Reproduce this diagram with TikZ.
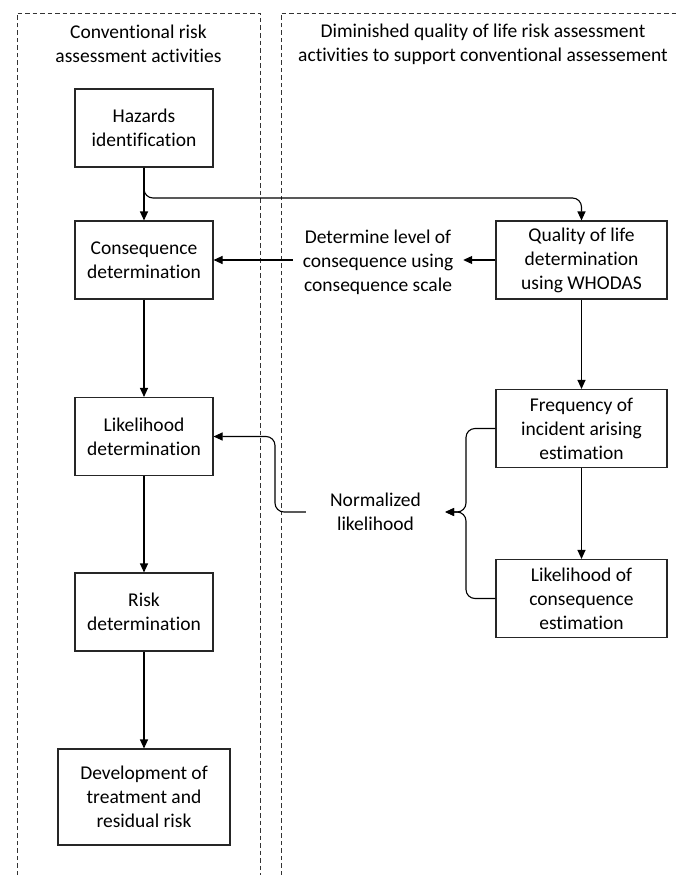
\documentclass[tikz,border=0pt]{standalone}
\usepackage{fontspec}
\setmainfont{Carlito}[Ligatures={NoCommon,NoContextual,NoRare}]
\usetikzlibrary{arrows.meta}
\begin{document}
\begin{tikzpicture}[x=1pt,y=-1pt,
  font=\fontsize{19.5}{24}\selectfont,
  box/.style={draw=black!85, line width=1.1pt, align=center, inner sep=0pt, fill=white},
  lbox/.style={box, minimum width=138pt, minimum height=78pt},
  rbox/.style={box, minimum width=171pt, minimum height=78pt},
  lbl/.style={align=center, inner sep=0pt},
  arr/.style={line width=1.1pt, -{Triangle[length=9pt,width=8pt]}},
  frame/.style={draw=black!80, line width=0.8pt, dash pattern=on 4.5pt off 3pt}
]
\useasboundingbox (0,0) rectangle (677,875);
% frames
\draw[frame] (17,875) -- (17,13) -- (260,13) -- (260,875);
\draw[frame] (281,875) -- (281,13) -- (677,13);
% titles
\node[lbl] (t1) at (138.5,44) {Conventional risk\\assessment activities};
\node[lbl] (t2) at (483,44) {Diminished quality of life risk assessment\\activities to support conventional assessement};
% left column
\node[lbox] (haz) at (144,128) {Hazards\\identification};
\node[lbox] (cons) at (144,260) {Consequence\\determination};
\node[lbox] (lik) at (144,436.5) {Likelihood\\determination};
\node[lbox] (risk) at (144,612) {Risk\\determination};
\node[box, minimum width=172pt, minimum height=96pt] (dev) at (144,797) {Development of\\treatment and\\residual risk};
% right column
\node[rbox] (qol) at (581.5,260) {Quality of life\\determination\\using WHODAS};
\node[rbox] (freq) at (581.5,428.5) {Frequency of\\incident arising\\estimation};
\node[rbox] (loc) at (581.5,598.5) {Likelihood of\\consequence\\estimation};
% labels
\node[lbl, minimum width=170pt] (det) at (378,262) {Determine level of\\consequence using\\consequence scale};
\node[lbl, minimum width=139pt] (norm) at (375.5,512) {Normalized\\likelihood};
% helper coordinates
\coordinate (hq) at (0,198);
\coordinate (j) at (466,512);
\coordinate (bend) at (275,436.5);
% connectors
\draw[arr] (haz) -- (cons);
\draw[arr, rounded corners=9pt] (haz.south) -- (haz.south |- hq) -- (qol.north |- hq) -- (qol.north);
\draw[arr] (qol.west) -- (det.east |- qol.west);
\draw[arr] (det.west |- cons.east) -- (cons.east);
\draw[arr] (qol) -- (freq);
\draw[arr] (freq) -- (loc);
\draw[arr] (cons) -- (lik);
\draw[arr] (lik) -- (risk);
\draw[arr] (risk) -- (dev);
\draw[arr, rounded corners=9pt] (freq.west) -| (j) -- (norm.east);
\draw[arr, rounded corners=9pt] (loc.west) -| (j) -- (norm.east);
\draw[arr, rounded corners=9pt] (norm.west) -| (bend) -- (lik.east);
\end{tikzpicture}
\end{document}
